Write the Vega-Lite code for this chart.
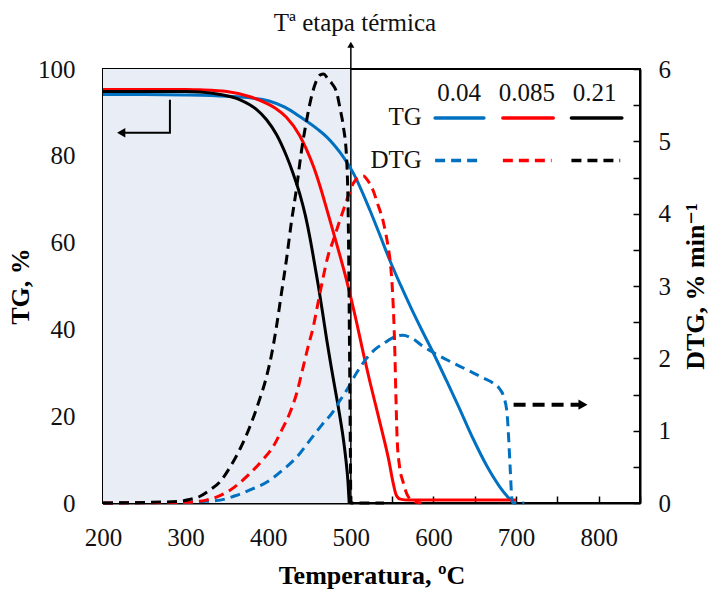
{
  "$schema": "https://vega.github.io/schema/vega-lite/v6.json",
  "width": 537,
  "height": 434,
  "autosize": {"type": "none"},
  "padding": {"left": 103, "top": 69, "right": 87, "bottom": 92},
  "background": "white",
  "config": {
    "view": {"stroke": "black", "strokeWidth": 2},
    "font": "'Liberation Serif', 'DejaVu Serif', serif",
    "text": {"font": "'Liberation Serif', 'DejaVu Serif', serif"},
    "axis": {
      "grid": false,
      "domainColor": "black",
      "domainWidth": 2,
      "tickColor": "black",
      "tickWidth": 1.5,
      "tickSize": -7,
      "labelColor": "#111",
      "labelFont": "'Liberation Serif', 'DejaVu Serif', serif",
      "labelFontSize": 25,
      "titleFont": "'Liberation Serif', 'DejaVu Serif', serif",
      "titleFontSize": 26,
      "titleFontWeight": "bold",
      "titleColor": "black",
      "labelFlush": false,
      "labelOverlap": false
    }
  },
  "datasets": {
    "tg": [
      {"s": "0.04", "T": 200, "TG": 94.1}, {"s": "0.04", "T": 250, "TG": 94.1}, {"s": "0.04", "T": 300, "TG": 94.0},
      {"s": "0.04", "T": 350, "TG": 93.7}, {"s": "0.04", "T": 380, "TG": 93.3}, {"s": "0.04", "T": 400, "TG": 92.7},
      {"s": "0.04", "T": 420, "TG": 91.2}, {"s": "0.04", "T": 440, "TG": 88.8}, {"s": "0.04", "T": 460, "TG": 86.1},
      {"s": "0.04", "T": 471, "TG": 84.3}, {"s": "0.04", "T": 481, "TG": 82.2}, {"s": "0.04", "T": 491, "TG": 79.7},
      {"s": "0.04", "T": 503, "TG": 76.0}, {"s": "0.04", "T": 513, "TG": 72.0}, {"s": "0.04", "T": 523, "TG": 67.5},
      {"s": "0.04", "T": 535, "TG": 61.8}, {"s": "0.04", "T": 547, "TG": 56.0}, {"s": "0.04", "T": 560, "TG": 50.3},
      {"s": "0.04", "T": 573, "TG": 44.9}, {"s": "0.04", "T": 586, "TG": 39.8}, {"s": "0.04", "T": 600, "TG": 34.5},
      {"s": "0.04", "T": 615, "TG": 28.5}, {"s": "0.04", "T": 630, "TG": 22.4}, {"s": "0.04", "T": 648, "TG": 14.8},
      {"s": "0.04", "T": 665, "TG": 8.4}, {"s": "0.04", "T": 680, "TG": 3.8}, {"s": "0.04", "T": 690, "TG": 1.4},
      {"s": "0.04", "T": 697, "TG": 0},
      {"s": "0.085", "T": 200, "TG": 95.3}, {"s": "0.085", "T": 300, "TG": 95.3}, {"s": "0.085", "T": 317, "TG": 95.2},
      {"s": "0.085", "T": 350, "TG": 94.8}, {"s": "0.085", "T": 378, "TG": 93.6}, {"s": "0.085", "T": 398, "TG": 92.1},
      {"s": "0.085", "T": 410, "TG": 90.8}, {"s": "0.085", "T": 422, "TG": 88.9}, {"s": "0.085", "T": 438, "TG": 84.7},
      {"s": "0.085", "T": 446, "TG": 81.6}, {"s": "0.085", "T": 455, "TG": 77.4}, {"s": "0.085", "T": 463, "TG": 72.8},
      {"s": "0.085", "T": 471, "TG": 67.6}, {"s": "0.085", "T": 483, "TG": 59.6}, {"s": "0.085", "T": 495, "TG": 51.2},
      {"s": "0.085", "T": 507, "TG": 41.6}, {"s": "0.085", "T": 515, "TG": 34.6}, {"s": "0.085", "T": 523, "TG": 28.0},
      {"s": "0.085", "T": 531, "TG": 21.8}, {"s": "0.085", "T": 539, "TG": 15.6}, {"s": "0.085", "T": 546, "TG": 9.8},
      {"s": "0.085", "T": 551, "TG": 4.8}, {"s": "0.085", "T": 555, "TG": 1.8}, {"s": "0.085", "T": 560, "TG": 0.9},
      {"s": "0.085", "T": 570, "TG": 0.7}, {"s": "0.085", "T": 700, "TG": 0.7},
      {"s": "0.21", "T": 200, "TG": 94.8}, {"s": "0.21", "T": 300, "TG": 94.8}, {"s": "0.21", "T": 317, "TG": 94.7},
      {"s": "0.21", "T": 340, "TG": 94.2}, {"s": "0.21", "T": 366, "TG": 92.9}, {"s": "0.21", "T": 385, "TG": 90.8},
      {"s": "0.21", "T": 398, "TG": 88.3}, {"s": "0.21", "T": 410, "TG": 84.9}, {"s": "0.21", "T": 422, "TG": 80.0},
      {"s": "0.21", "T": 430, "TG": 76.0}, {"s": "0.21", "T": 438.5, "TG": 71.0}, {"s": "0.21", "T": 445, "TG": 66.2},
      {"s": "0.21", "T": 450.6, "TG": 61.0}, {"s": "0.21", "T": 455, "TG": 56.3}, {"s": "0.21", "T": 460.7, "TG": 50.0},
      {"s": "0.21", "T": 466, "TG": 43.6}, {"s": "0.21", "T": 470.8, "TG": 37.6}, {"s": "0.21", "T": 476, "TG": 31.6},
      {"s": "0.21", "T": 481, "TG": 26.2}, {"s": "0.21", "T": 486, "TG": 20.8}, {"s": "0.21", "T": 490, "TG": 16.0},
      {"s": "0.21", "T": 494, "TG": 10.0}, {"s": "0.21", "T": 496.5, "TG": 5.0}, {"s": "0.21", "T": 498, "TG": 0}
    ],
    "dtg": [
      {"s": "0.04", "T": 200, "DTG": 0}, {"s": "0.04", "T": 300, "DTG": 0.01}, {"s": "0.04", "T": 320, "DTG": 0.02},
      {"s": "0.04", "T": 342, "DTG": 0.04}, {"s": "0.04", "T": 360, "DTG": 0.1}, {"s": "0.04", "T": 378, "DTG": 0.18},
      {"s": "0.04", "T": 400, "DTG": 0.3}, {"s": "0.04", "T": 418, "DTG": 0.46}, {"s": "0.04", "T": 435, "DTG": 0.64},
      {"s": "0.04", "T": 450.6, "DTG": 0.87}, {"s": "0.04", "T": 465, "DTG": 1.08}, {"s": "0.04", "T": 479, "DTG": 1.27},
      {"s": "0.04", "T": 487, "DTG": 1.42}, {"s": "0.04", "T": 495, "DTG": 1.56}, {"s": "0.04", "T": 507, "DTG": 1.8},
      {"s": "0.04", "T": 519, "DTG": 2.0}, {"s": "0.04", "T": 530, "DTG": 2.13}, {"s": "0.04", "T": 539, "DTG": 2.2},
      {"s": "0.04", "T": 550, "DTG": 2.28}, {"s": "0.04", "T": 563, "DTG": 2.32}, {"s": "0.04", "T": 575, "DTG": 2.27},
      {"s": "0.04", "T": 588, "DTG": 2.16}, {"s": "0.04", "T": 600, "DTG": 2.08}, {"s": "0.04", "T": 616, "DTG": 1.98},
      {"s": "0.04", "T": 632, "DTG": 1.89}, {"s": "0.04", "T": 648, "DTG": 1.8}, {"s": "0.04", "T": 660, "DTG": 1.73},
      {"s": "0.04", "T": 672, "DTG": 1.66}, {"s": "0.04", "T": 680, "DTG": 1.58}, {"s": "0.04", "T": 685, "DTG": 1.47},
      {"s": "0.04", "T": 689, "DTG": 1.25}, {"s": "0.04", "T": 691, "DTG": 0.9}, {"s": "0.04", "T": 693, "DTG": 0.45},
      {"s": "0.04", "T": 695, "DTG": 0.05}, {"s": "0.04", "T": 697, "DTG": 0}, {"s": "0.04", "T": 710, "DTG": 0},
      {"s": "0.085", "T": 200, "DTG": 0}, {"s": "0.085", "T": 300, "DTG": 0.01}, {"s": "0.085", "T": 325, "DTG": 0.04},
      {"s": "0.085", "T": 350, "DTG": 0.15}, {"s": "0.085", "T": 378, "DTG": 0.41}, {"s": "0.085", "T": 392, "DTG": 0.58},
      {"s": "0.085", "T": 406, "DTG": 0.78}, {"s": "0.085", "T": 416, "DTG": 1.0}, {"s": "0.085", "T": 426, "DTG": 1.24},
      {"s": "0.085", "T": 434, "DTG": 1.5}, {"s": "0.085", "T": 442.5, "DTG": 1.89}, {"s": "0.085", "T": 448, "DTG": 2.15},
      {"s": "0.085", "T": 454.6, "DTG": 2.44}, {"s": "0.085", "T": 460, "DTG": 2.75}, {"s": "0.085", "T": 466.7, "DTG": 3.13},
      {"s": "0.085", "T": 472, "DTG": 3.4}, {"s": "0.085", "T": 479, "DTG": 3.64}, {"s": "0.085", "T": 485, "DTG": 3.85},
      {"s": "0.085", "T": 491, "DTG": 4.05}, {"s": "0.085", "T": 497, "DTG": 4.25}, {"s": "0.085", "T": 503, "DTG": 4.42},
      {"s": "0.085", "T": 509, "DTG": 4.5}, {"s": "0.085", "T": 515, "DTG": 4.52}, {"s": "0.085", "T": 521, "DTG": 4.45},
      {"s": "0.085", "T": 527, "DTG": 4.32}, {"s": "0.085", "T": 532, "DTG": 4.15}, {"s": "0.085", "T": 540, "DTG": 3.85},
      {"s": "0.085", "T": 545, "DTG": 3.55}, {"s": "0.085", "T": 548, "DTG": 3.3}, {"s": "0.085", "T": 551, "DTG": 2.8},
      {"s": "0.085", "T": 553, "DTG": 2.2}, {"s": "0.085", "T": 554.5, "DTG": 1.5}, {"s": "0.085", "T": 556, "DTG": 0.9},
      {"s": "0.085", "T": 559, "DTG": 0.5}, {"s": "0.085", "T": 563, "DTG": 0.3}, {"s": "0.085", "T": 568, "DTG": 0.12},
      {"s": "0.085", "T": 575, "DTG": 0.03}, {"s": "0.085", "T": 585, "DTG": 0},
      {"s": "0.21", "T": 200, "DTG": 0}, {"s": "0.21", "T": 290, "DTG": 0.02}, {"s": "0.21", "T": 305, "DTG": 0.05},
      {"s": "0.21", "T": 317, "DTG": 0.09}, {"s": "0.21", "T": 329.5, "DTG": 0.18}, {"s": "0.21", "T": 342, "DTG": 0.3},
      {"s": "0.21", "T": 354, "DTG": 0.5}, {"s": "0.21", "T": 366, "DTG": 0.75}, {"s": "0.21", "T": 378, "DTG": 1.06},
      {"s": "0.21", "T": 388, "DTG": 1.38}, {"s": "0.21", "T": 398, "DTG": 1.75}, {"s": "0.21", "T": 404, "DTG": 2.05},
      {"s": "0.21", "T": 410, "DTG": 2.44}, {"s": "0.21", "T": 416, "DTG": 2.9}, {"s": "0.21", "T": 422, "DTG": 3.36},
      {"s": "0.21", "T": 428, "DTG": 3.88}, {"s": "0.21", "T": 434.5, "DTG": 4.37}, {"s": "0.21", "T": 440, "DTG": 4.85},
      {"s": "0.21", "T": 446.6, "DTG": 5.3}, {"s": "0.21", "T": 452, "DTG": 5.6}, {"s": "0.21", "T": 458, "DTG": 5.83},
      {"s": "0.21", "T": 463, "DTG": 5.92}, {"s": "0.21", "T": 467, "DTG": 5.93}, {"s": "0.21", "T": 472, "DTG": 5.87},
      {"s": "0.21", "T": 477, "DTG": 5.8}, {"s": "0.21", "T": 483, "DTG": 5.67}, {"s": "0.21", "T": 487, "DTG": 5.45},
      {"s": "0.21", "T": 491, "DTG": 5.2}, {"s": "0.21", "T": 495, "DTG": 4.74}, {"s": "0.21", "T": 497, "DTG": 3.82},
      {"s": "0.21", "T": 498.5, "DTG": 2.0}, {"s": "0.21", "T": 499.5, "DTG": 0.6}, {"s": "0.21", "T": 500, "DTG": 0},
      {"s": "0.21", "T": 540, "DTG": 0}
    ]
  },
  "layer": [
    {
      "encoding": {
        "x": {
          "field": "T", "type": "quantitative",
          "scale": {"domain": [200, 850], "nice": false, "zero": false},
          "axis": {
            "values": [200, 250, 300, 350, 400, 450, 500, 550, 600, 650, 700, 750, 800, 850],
            "labelExpr": "datum.value % 100 === 0 && datum.value < 850 ? datum.label : ''",
            "title": "Temperatura, ºC",
            "labelPadding": 29,
            "titlePadding": 12
          }
        },
        "y": {
          "field": "TG", "type": "quantitative",
          "scale": {"domain": [0, 100], "nice": false},
          "axis": {
            "values": [0, 10, 20, 30, 40, 50, 60, 70, 80, 90, 100],
            "labelExpr": "datum.value % 20 === 0 ? datum.label : ''",
            "title": "TG, %",
            "labelPadding": 35,
            "titlePadding": 4
          }
        }
      },
      "layer": [
        {
          "data": {"values": [{"T": 200, "T2": 500, "TG": 0, "TG2": 100}]},
          "mark": {"type": "rect", "color": "#e9eef6"},
          "encoding": {"x2": {"field": "T2"}, "y2": {"field": "TG2"}}
        },
        {
          "data": {"values": [{"T": 500, "TG": 0, "TG2": 105}]},
          "mark": {"type": "rule", "color": "black", "strokeWidth": 1.5},
          "encoding": {"y2": {"field": "TG2"}}
        },
        {
          "data": {"values": [{"T": 500, "TG": 105.6}]},
          "mark": {"type": "point", "shape": "triangle-up", "filled": true, "color": "black", "size": 50, "opacity": 1}
        },
        {
          "data": {"values": [{"T": 505, "TG": 110.5, "label": "Tª etapa térmica"}]},
          "mark": {"type": "text", "font": "'Liberation Serif', 'DejaVu Serif', serif", "fontSize": 25, "color": "#111", "align": "center", "baseline": "middle"},
          "encoding": {"text": {"field": "label"}}
        },
        {
          "data": {"name": "tg"},
          "mark": {"type": "line", "strokeWidth": 3, "interpolate": "monotone"},
          "encoding": {
            "color": {"field": "s", "type": "nominal", "scale": {"domain": ["0.04", "0.085", "0.21"], "range": ["#0070c0", "#ff0000", "#000000"]}, "legend": null}
          }
        },
        {
          "data": {"values": [{"T": 281, "TG": 92.9, "o": 1}, {"T": 281, "TG": 85.3, "o": 2}, {"T": 225, "TG": 85.3, "o": 3}]},
          "mark": {"type": "line", "color": "black", "strokeWidth": 2},
          "encoding": {"order": {"field": "o", "type": "quantitative"}}
        },
        {
          "data": {"values": [{"T": 222, "TG": 85.3}]},
          "mark": {"type": "point", "shape": "triangle-left", "filled": true, "color": "black", "size": 90, "opacity": 1}
        },
        {
          "data": {"values": [{"T": 631, "TG": 94.5, "label": "0.04"}, {"T": 713, "TG": 94.5, "label": "0.085"}, {"T": 795, "TG": 94.5, "label": "0.21"}]},
          "mark": {"type": "text", "font": "'Liberation Serif', 'DejaVu Serif', serif", "fontSize": 25, "color": "#111", "align": "center", "baseline": "middle"},
          "encoding": {"text": {"field": "label"}}
        },
        {
          "data": {"values": [{"T": 586, "TG": 88.9, "label": "TG"}, {"T": 586, "TG": 79.1, "label": "DTG"}]},
          "mark": {"type": "text", "font": "'Liberation Serif', 'DejaVu Serif', serif", "fontSize": 25, "color": "#111", "align": "right", "baseline": "middle"},
          "encoding": {"text": {"field": "label"}}
        },
        {
          "data": {"values": [{"s": "0.04", "T": 602, "T2": 661, "TG": 88.7}, {"s": "0.085", "T": 684, "T2": 745, "TG": 88.7}, {"s": "0.21", "T": 767, "T2": 828, "TG": 88.7}]},
          "mark": {"type": "rule", "strokeWidth": 3.5, "strokeCap": "round"},
          "encoding": {"x2": {"field": "T2"}, "color": {"field": "s", "type": "nominal", "legend": null}}
        },
        {
          "data": {"values": [{"s": "0.04", "T": 602, "T2": 659, "TG": 78.9}, {"s": "0.085", "T": 684, "T2": 743, "TG": 78.9}, {"s": "0.21", "T": 767, "T2": 826, "TG": 78.9}]},
          "mark": {"type": "rule", "strokeWidth": 3.5, "strokeDash": [10, 6]},
          "encoding": {"x2": {"field": "T2"}, "color": {"field": "s", "type": "nominal", "legend": null}}
        }
      ]
    },
    {
      "encoding": {
        "x": {
          "field": "T", "type": "quantitative",
          "scale": {"domain": [200, 850], "nice": false, "zero": false}
        },
        "y": {
          "field": "DTG", "type": "quantitative",
          "scale": {"domain": [0, 6], "nice": false},
          "axis": {
            "orient": "right",
            "values": [0, 0.5, 1, 1.5, 2, 2.5, 3, 3.5, 4, 4.5, 5, 5.5, 6],
            "labelExpr": "datum.value % 1 === 0 ? format(datum.value, 'd') : ''",
            "title": "DTG, % min⁻¹",
            "titleAngle": -90,
            "titleBaseline": "top",
            "labelPadding": 25,
            "titlePadding": 12
          }
        }
      },
      "layer": [
        {
          "data": {"name": "dtg"},
          "mark": {"type": "line", "strokeDash": [10, 6], "interpolate": "monotone"},
          "encoding": {
            "color": {"field": "s", "type": "nominal", "legend": null},
            "strokeWidth": {"field": "s", "type": "nominal", "scale": {"domain": ["0.04", "0.085", "0.21"], "range": [3, 3, 4.5]}, "legend": null}
          }
        },
        {
          "data": {"values": [{"T": 697, "T2": 778, "DTG": 1.36}]},
          "mark": {"type": "rule", "color": "black", "strokeWidth": 4, "strokeDash": [12, 7]},
          "encoding": {"x2": {"field": "T2"}}
        },
        {
          "data": {"values": [{"T": 781, "DTG": 1.36}]},
          "mark": {"type": "point", "shape": "triangle-right", "filled": true, "color": "black", "size": 110, "opacity": 1}
        }
      ]
    }
  ],
  "resolve": {"scale": {"y": "independent"}}
}
